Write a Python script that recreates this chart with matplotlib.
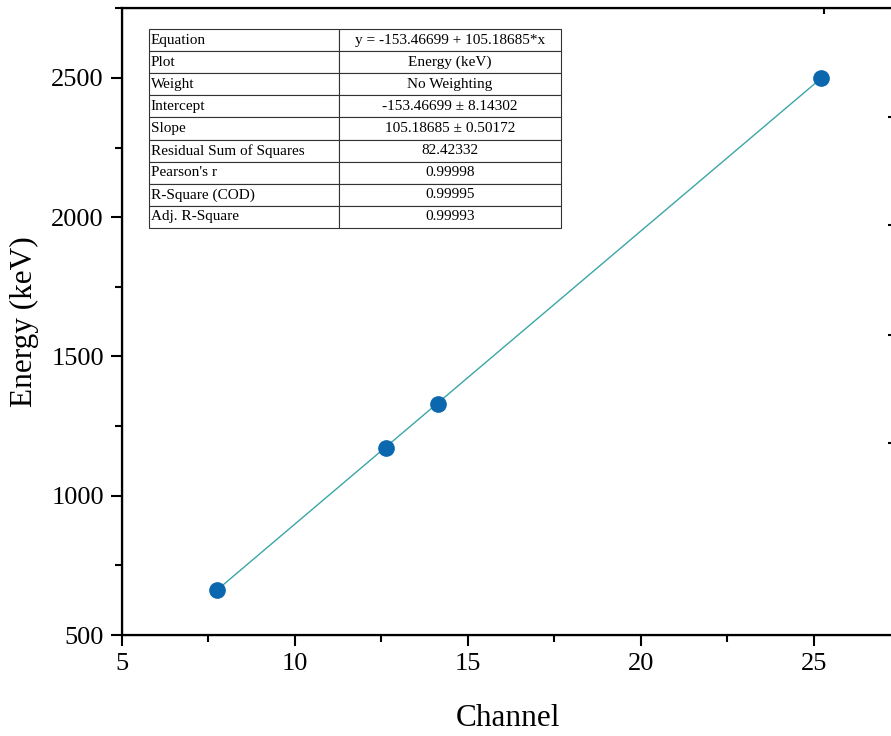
import numpy as np
import matplotlib.pyplot as plt
from matplotlib.ticker import MultipleLocator

plt.rcParams['font.family'] = ['Liberation Serif', 'DejaVu Serif']

# data
channel = [7.75, 12.62, 14.15, 25.22]
energy = [661, 1170, 1330, 2500]
intercept = -153.46699
slope = 105.18685

row_names = ['Equation', 'Plot', 'Weight', 'Intercept', 'Slope',
             'Residual Sum of Squares', "Pearson's r", 'R-Square (COD)',
             'Adj. R-Square']
row_values = ['y = -153.46699 + 105.18685*x', 'Energy (keV)', 'No Weighting',
              '-153.46699 \u00b1 8.14302', '105.18685 \u00b1 0.50172',
              '82.42332', '0.99998', '0.99995', '0.99993']

fig = plt.figure(figsize=(8.91, 7.36), dpi=100)
ax = fig.add_axes([122/891, 101/736, 772/891, 627/736])

# fit line over the data range
xf = np.array([min(channel), max(channel)])
ax.plot(xf, intercept + slope*xf, color='#3aa6a6', lw=1.0, zorder=2)
ax.plot(channel, energy, 'o', color='#0b67ae', ms=11, zorder=3)

ax.set_xlim(5, 27.32)
ax.set_ylim(500, 2751)
ax.xaxis.set_major_locator(MultipleLocator(5))
ax.xaxis.set_minor_locator(MultipleLocator(2.5))
ax.yaxis.set_major_locator(MultipleLocator(500))
ax.yaxis.set_minor_locator(MultipleLocator(250))
ax.tick_params(which='major', direction='out', length=8, width=1.5,
               labelsize=19, pad=5)
ax.tick_params(which='minor', direction='out', length=5, width=1.5)
for s in ax.spines.values():
    s.set_linewidth(1.6)

ax.set_xlabel('Channel', fontsize=22.5, labelpad=21)
ax.set_ylabel('Energy (keV)', fontsize=22.5, labelpad=9)

# top and right axis ticks (inward)
ax_t = ax.twiny()
ax_t.set_xlim(ax.get_xlim())
ax_t.set_xticks([25.3])
ax_t.tick_params(direction='in', length=4, width=1.5, labeltop=False)
ax_r = ax.twinx()
ax_r.set_ylim(ax.get_ylim())
ax_r.set_yticks([1189, 1577, 1972, 2360])
ax_r.tick_params(direction='in', length=4, width=1.5, labelright=False)

# fit results table
cells = [[a, b] for a, b in zip(row_names, row_values)]
tab = ax.table(cellText=cells, colWidths=[0.461, 0.539],
               bbox=[27/772, 407/627, 412/772, 199/627])
tab.auto_set_font_size(False)
tab.set_fontsize(11)
for (r, c), cell in tab.get_celld().items():
    cell.set_linewidth(0.8)
    cell.set_edgecolor('#333333')
    cell.get_text().set_ha('left' if c == 0 else 'center')
    if c == 0:
        cell.PAD = 0.01
    cell.set_text_props(va='center')
tab.set_zorder(5)

fig.savefig('out.png', dpi=100)
